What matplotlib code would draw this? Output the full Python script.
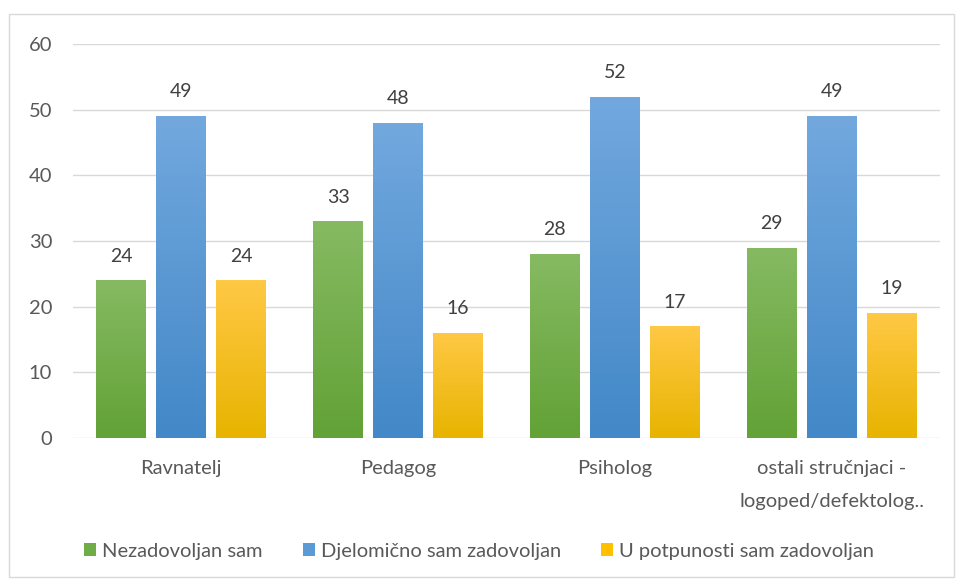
import numpy as np
import matplotlib.pyplot as plt
from matplotlib.patches import Patch, Rectangle
from matplotlib.colors import LinearSegmentedColormap

plt.rcParams['font.family'] = ['Lato', 'DejaVu Sans']

categories = ['Ravnatelj', 'Pedagog', 'Psiholog', 'ostali stručnjaci -\nlogoped/defektolog..']
series = ['Nezadovoljan sam', 'Djelomično sam zadovoljan', 'U potpunosti sam zadovoljan']
nezadovoljan = [24, 33, 28, 29]
djelomicno = [49, 48, 52, 49]
potpuno = [24, 16, 17, 19]
values = [nezadovoljan, djelomicno, potpuno]

# gradient colours, top -> bottom
grad = [('#86ba62', '#62a236'), ('#72a8de', '#4388c8'), ('#ffc845', '#e8b400')]
mid = ['#70ad47', '#5b9bd5', '#ffc000']

fig = plt.figure(figsize=(9.58, 5.8), dpi=100)
fig.patches.append(Rectangle((9 / 958, 0.005), 945 / 958, 1 - 14 / 580 - 0.005,
                             transform=fig.transFigure, fill=False,
                             edgecolor='#d9d9d9', linewidth=1))
ax = fig.add_axes([73 / 958, 1 - 438 / 580, 867 / 958, (438 - 44) / 580])

x = np.arange(len(categories))
w = 0.23
offsets = [-0.277, 0, 0.277]
for i in range(3):
    cmap = LinearSegmentedColormap.from_list('g%d' % i, [grad[i][1], grad[i][0]])
    bars = ax.bar(x + offsets[i], values[i], w, color=mid[i], zorder=2)
    for b, v in zip(bars, values[i]):
        x0 = b.get_x()
        im = ax.imshow(np.linspace(0, 1, 100).reshape(-1, 1), cmap=cmap, aspect='auto',
                       origin='lower', extent=[x0, x0 + w, 0, v], zorder=3)
        im.set_clip_path(b)
        ax.text(x0 + w / 2, v + 2.4, str(v), ha='center', va='bottom',
                fontsize=14, color='#404040')

ax.set_xlim(-0.5, 3.5)
ax.set_ylim(0, 60)
ax.set_yticks(range(0, 61, 10))
ax.set_xticks(x)
ax.set_xticklabels(categories, linespacing=2.1, va='top')
ax.grid(axis='y', color='#d9d9d9', linewidth=1, zorder=0)
ax.set_axisbelow(True)
for s in ax.spines.values():
    s.set_visible(False)
ax.tick_params(axis='both', length=0, labelsize=14.5, colors='#595959')
ax.tick_params(axis='y', pad=15)
ax.tick_params(axis='x', pad=16)

handles = [Patch(facecolor=mid[i], label=series[i]) for i in range(3)]
fig.legend(handles=handles, loc='center', bbox_to_anchor=(0.5, 1 - 551 / 580), ncol=3,
           frameon=False, fontsize=14.5, handlelength=0.6, handleheight=0.6,
           handletextpad=0.3, columnspacing=2.0, labelcolor='#595959')

fig.savefig('out.png', dpi=100)
